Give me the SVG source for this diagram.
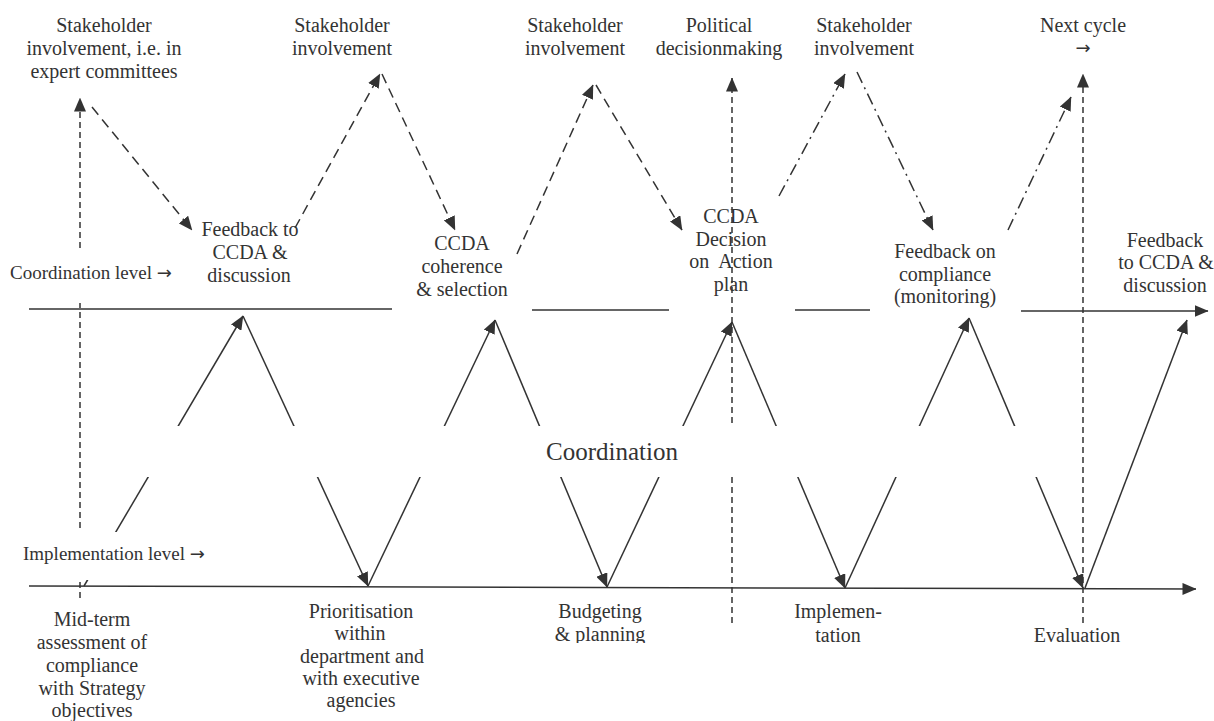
<svg xmlns="http://www.w3.org/2000/svg" width="1214" height="721" viewBox="0 0 1214 721">
<style>
.t{font-family:"Liberation Serif","Times New Roman",serif;font-size:20px;fill:#333;text-anchor:middle}
.s{font-size:19px;text-anchor:start}
.big{font-size:25px}
.ar{font-family:"DejaVu Sans",sans-serif;font-size:18px}
.ln{stroke:#333;stroke-width:1.5;fill:none}
.da{stroke-dasharray:10 6}
.vd{stroke-dasharray:6 4}
.dd{stroke-dasharray:12 5 2 5}
.box{fill:#fff;stroke:none}
</style>
<defs>
<marker id="ah" viewBox="0 0 14 12" refX="13.5" refY="6" markerWidth="14" markerHeight="12" markerUnits="userSpaceOnUse" orient="auto">
<path d="M0,0 L14,6 L0,12 z" fill="#333"/>
</marker>
<clipPath id="clipPlan"><rect x="540" y="595" width="130" height="48"/></clipPath>
</defs>
<g id="connectors">
<line class="ln" x1="29" y1="309" x2="392" y2="309"/>
<line class="ln" x1="532" y1="310" x2="669" y2="310"/>
<line class="ln" x1="795" y1="310" x2="870" y2="310"/>
<line class="ln" x1="1021" y1="311" x2="1208" y2="311" marker-end="url(#ah)"/>
<line class="ln" x1="29" y1="586" x2="1196" y2="589" marker-end="url(#ah)"/>
<line class="ln" x1="84" y1="586" x2="243" y2="316" marker-end="url(#ah)"/>
<line class="ln" x1="243" y1="316" x2="368" y2="586" marker-end="url(#ah)"/>
<line class="ln" x1="368" y1="586" x2="495" y2="320" marker-end="url(#ah)"/>
<line class="ln" x1="495" y1="320" x2="607" y2="587" marker-end="url(#ah)"/>
<line class="ln" x1="607" y1="587" x2="732" y2="322" marker-end="url(#ah)"/>
<line class="ln" x1="732" y1="322" x2="845" y2="588" marker-end="url(#ah)"/>
<line class="ln" x1="845" y1="588" x2="969" y2="318" marker-end="url(#ah)"/>
<line class="ln" x1="969" y1="318" x2="1083" y2="588" marker-end="url(#ah)"/>
<line class="ln" x1="1085" y1="588" x2="1187" y2="320" marker-end="url(#ah)"/>
<line class="ln vd" x1="80" y1="598" x2="80" y2="98" marker-end="url(#ah)"/>
<line class="ln vd" x1="732" y1="623" x2="732" y2="78" marker-end="url(#ah)"/>
<line class="ln vd" x1="1083" y1="623" x2="1083" y2="74" marker-end="url(#ah)"/>
<line class="ln da" x1="92" y1="107" x2="192" y2="230" marker-end="url(#ah)"/>
<line class="ln da" x1="295" y1="228" x2="380" y2="74" marker-end="url(#ah)"/>
<line class="ln da" x1="382" y1="74" x2="455" y2="230" marker-end="url(#ah)"/>
<line class="ln da" x1="517" y1="254" x2="593" y2="85" marker-end="url(#ah)"/>
<line class="ln da" x1="596" y1="85" x2="682" y2="230" marker-end="url(#ah)"/>
<line class="ln dd" x1="779" y1="196" x2="845" y2="74" marker-end="url(#ah)"/>
<line class="ln dd" x1="857" y1="72" x2="933" y2="230" marker-end="url(#ah)"/>
<line class="ln dd" x1="1008" y1="230" x2="1071" y2="97" marker-end="url(#ah)"/>
</g>
<g id="stakeholder-1"><text class="t" x="104" y="32">Stakeholder</text><text class="t" x="104" y="55">involvement, i.e. in</text><text class="t" x="104" y="78">expert committees</text></g>
<g id="stakeholder-2"><text class="t" x="342" y="32">Stakeholder</text><text class="t" x="342" y="55">involvement</text></g>
<g id="stakeholder-3"><text class="t" x="575" y="32">Stakeholder</text><text class="t" x="575" y="55">involvement</text></g>
<g id="political"><text class="t" x="719" y="32">Political</text><text class="t" x="719" y="55">decisionmaking</text></g>
<g id="stakeholder-4"><text class="t" x="864" y="32">Stakeholder</text><text class="t" x="864" y="55">involvement</text></g>
<g id="next-cycle"><text class="t" x="1083" y="32">Next cycle</text><text class="t ar" x="1083" y="54">→</text></g>
<g id="feedback-1"><text class="t" x="250" y="236">Feedback to</text><text class="t" x="250" y="259">CCDA &amp;</text><text class="t" x="249" y="282">discussion</text></g>
<g id="ccda-coherence"><text class="t" x="462" y="250">CCDA</text><text class="t" x="462" y="273">coherence</text><text class="t" x="462" y="296">&amp; selection</text></g>
<g id="ccda-decision"><text class="t" x="731" y="223">CCDA</text><text class="t" x="731" y="246">Decision</text><text class="t" x="731" y="268" xml:space="preserve">on  Action</text><text class="t" x="731" y="291">plan</text></g>
<g id="feedback-compliance"><text class="t" x="945" y="258">Feedback on</text><text class="t" x="945" y="281">compliance</text><text class="t" x="945" y="303">(monitoring)</text></g>
<g id="feedback-2"><text class="t" x="1165" y="247">Feedback</text><text class="t" x="1166" y="269">to CCDA &amp;</text><text class="t" x="1165" y="292">discussion</text></g>
<g id="coordination-level"><rect class="box" x="5" y="250" width="173" height="53"/><text class="t s" x="10" y="279">Coordination level <tspan class="ar">→</tspan></text></g>
<g id="implementation-level"><rect class="box" x="18" y="532" width="190" height="48"/><text class="t s" x="23" y="560">Implementation level <tspan class="ar">→</tspan></text></g>
<g id="coordination"><rect class="box" x="105" y="426" width="955" height="51"/><text class="t big" x="612" y="460">Coordination</text></g>
<g id="mid-term"><text class="t" x="92" y="626">Mid-term</text><text class="t" x="92" y="649">assessment of</text><text class="t" x="92" y="672">compliance</text><text class="t" x="92" y="695">with Strategy</text><text class="t" x="92" y="717">objectives</text></g>
<g id="prioritisation"><text class="t" x="361" y="618">Prioritisation</text><text class="t" x="360" y="640">within</text><text class="t" x="362" y="663">department and</text><text class="t" x="361" y="685">with executive</text><text class="t" x="361" y="707">agencies</text></g>
<g id="budgeting"><text class="t" x="600" y="618">Budgeting</text><text class="t" x="600" y="641" clip-path="url(#clipPlan)">&amp; planning</text></g>
<g id="implementation"><text class="t" x="838" y="618">Implemen-</text><text class="t" x="838" y="642">tation</text></g>
<g id="evaluation"><text class="t" x="1077" y="642">Evaluation</text></g>
</svg>
